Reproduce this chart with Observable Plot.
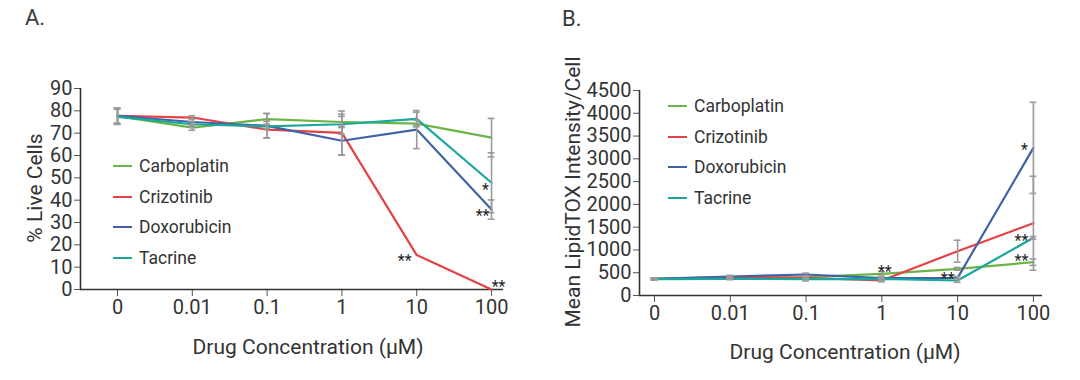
<!DOCTYPE html>
<html>
<head>
<meta charset="utf-8">
<script src="https://cdn.jsdelivr.net/npm/d3@7"></script>
<script src="https://cdn.jsdelivr.net/npm/@observablehq/plot@0.6"></script>
<style>
  html, body { margin: 0; padding: 0; background: #fff; }
  body { width: 1080px; height: 380px; overflow: hidden; font-family: Roboto, "Open Sans", sans-serif; color: #333; }
  #wrap { display: flex; width: 1080px; height: 380px; }
  .panel { position: relative; width: 540px; height: 380px; }
  .tag { position: absolute; font-size: 22px; color: #3a3a3a; }
  .legend { position: absolute; font-size: 17.5px; color: #333; }
  .legend .row { display: flex; align-items: center; height: 30.5px; }
  .legend .sw { width: 19px; height: 0; border-top: 2px solid; margin-right: 7px; }
</style>
</head>
<body>
<div id="wrap"></div>
<script>
// ---- data ----
const concentrations = ["0", "0.01", "0.1", "1", "10", "100"];
const drugs = ["Carboplatin", "Crizotinib", "Doxorubicin", "Tacrine"];
const colors = ["#6cb446", "#e44245", "#4262a8", "#1aa79c"];
const xTitle = "Drug Concentration (μM)";

// Panel A: % live cells
const liveCarboplatin = [77.6, 72.5, 76.3, 75.0, 74.3, 68.0];
const liveCrizotinib  = [77.8, 77.0, 71.6, 70.1, 15.4, 0.0];
const liveDoxorubicin = [77.8, 75.0, 73.3, 66.6, 71.6, 35.8];
const liveTacrine     = [77.3, 74.0, 73.0, 74.0, 76.4, 47.8];
const liveErrCarboplatin = [3.4, 1.2, 2.5, 2.5, 1.5, 8.6];
const liveErrCrizotinib  = [3.4, 0.8, 3.7, 9.8, 0.0, 0.0];
const liveErrDoxorubicin = [3.4, 1.5, 5.5, 6.5, 8.5, 4.3];
const liveErrTacrine     = [3.4, 1.2, 1.0, 4.5, 3.0, 13.4];
const liveTicks = [0, 10, 20, 30, 40, 50, 60, 70, 80, 90];
const liveStars = [
  {drug: "Tacrine", conc: "100", label: "*"},
  {drug: "Doxorubicin", conc: "100", label: "**"},
  {drug: "Crizotinib", conc: "10", label: "**"},
  {drug: "Crizotinib", conc: "100", label: "**"}
];

// Panel B: Mean LipidTOX intensity / cell
const lipCarboplatin = [366, 388, 402, 475, 585, 731];
const lipCrizotinib  = [366, 402, 388, 329, 973, 1587];
const lipDoxorubicin = [366, 417, 461, 380, 388, 3240];
const lipTacrine     = [358, 366, 358, 366, 329, 1266];
const lipErrCarboplatin = [20, 25, 25, 50, 30, 70];
const lipErrCrizotinib  = [20, 25, 25, 30, 240, 1030];
const lipErrDoxorubicin = [20, 25, 30, 30, 30, 1000];
const lipErrTacrine     = [20, 20, 40, 30, 40, 30];
const lipTicks = [0, 500, 1000, 1500, 2000, 2500, 3000, 3500, 4000, 4500];
const lipStars = [
  {drug: "Doxorubicin", conc: "100", label: "*"},
  {drug: "Tacrine", conc: "100", label: "**"},
  {drug: "Carboplatin", conc: "100", label: "**"},
  {drug: "Carboplatin", conc: "1", label: "**"},
  {drug: "Doxorubicin", conc: "10", label: "**"}
];

// ---- styling / layout (not data) ----
const starOffsetsA = [[-6, 7], [-9, 6], [-12, 6], [7, -3]];
const starOffsetsB = [[-9, 2], [-12, 3], [-12, -1], [3, -2], [-10, 1]];
const FONT = "Roboto, 'Open Sans', sans-serif";

function buildTable(series, errs) {
  const rows = [];
  drugs.forEach((drug, k) => {
    series[k].forEach((v, i) => rows.push({drug, i, conc: concentrations[i], v, lo: v - errs[k][i], hi: v + errs[k][i], err: errs[k][i]}));
  });
  return rows;
}

function makePanel(cfg) {
  const table = buildTable(cfg.series, cfg.errs);
  const bars = table.filter(d => d.err > 0);
  const caps = bars.flatMap(d => [{i: d.i, y: d.lo}, {i: d.i, y: d.hi}]);
  const stars = cfg.stars.map((s, k) => {
    const row = table.find(d => d.drug === s.drug && d.conc === s.conc);
    return {...s, i: row.i, v: row.v, off: cfg.starOffsets[k]};
  });
  const capHalf = 0.045;
  const xDom = cfg.xDomain;
  return Plot.plot({
    width: 540, height: 380,
    marginLeft: cfg.ml, marginRight: cfg.mr, marginTop: cfg.mt, marginBottom: cfg.mb,
    style: {fontFamily: FONT, fontSize: "20px", color: "#333", background: "transparent", overflow: "visible"},
    x: {type: "linear", domain: xDom},
    y: {domain: cfg.yDomain},
    color: {domain: drugs, range: colors},
    marks: [
      Plot.axisX({ticks: concentrations.map((_, i) => i), tickFormat: i => concentrations[i], tickSize: 7, tickPadding: 3,
        fontSize: 20, fill: "#333", label: null, stroke: "#555"}),
      Plot.axisY({ticks: cfg.yTicks, tickSize: 6, tickPadding: 2, tickFormat: d => String(d),
        fontSize: 20, fill: "#333", label: null, stroke: "#555"}),
      Plot.text([xTitle], {frameAnchor: "bottom", text: d => d, lineAnchor: "middle", textAnchor: "middle",
        dx: cfg.xTitleDx, dy: cfg.xTitleDy, fontSize: 21, fill: "#333"}),
      Plot.text([cfg.yLabel], {frameAnchor: "left", text: d => d, rotate: -90, lineAnchor: "middle", textAnchor: "middle",
        dx: cfg.yTitleDx, dy: cfg.yTitleDy, fontSize: 21, fill: "#333"}),
      Plot.ruleX([xDom[0]], {stroke: "#333", strokeWidth: 1.6}),
      Plot.ruleY([cfg.yDomain[0]], {stroke: "#333", strokeWidth: 1.6}),
      Plot.line(table, {x: "i", y: "v", z: "drug", stroke: "drug", strokeWidth: 2.2}),
      Plot.ruleX(bars, {x: "i", y1: "lo", y2: "hi", stroke: "#9a9a9a", strokeWidth: 1.6}),
      Plot.ruleY(caps, {y: "y", x1: d => d.i - capHalf, x2: d => d.i + capHalf, stroke: "#9a9a9a", strokeWidth: 1.6}),
      ...stars.map(s => Plot.text([s], {x: "i", y: "v", text: "label", dx: s.off[0], dy: s.off[1], fontSize: 16, fill: "#222"}))
    ]
  });
}

function legendEl(left, top) {
  const div = document.createElement("div");
  div.className = "legend";
  div.style.left = left + "px";
  div.style.top = top + "px";
  drugs.forEach((d, k) => {
    const row = document.createElement("div");
    row.className = "row";
    const sw = document.createElement("span");
    sw.className = "sw";
    sw.style.borderTopColor = colors[k];
    const t = document.createElement("span");
    t.textContent = d;
    row.append(sw, t);
    div.append(row);
  });
  return div;
}

const wrap = document.getElementById("wrap");

const pA = document.createElement("div");
pA.className = "panel";
pA.append(makePanel({
  series: [liveCarboplatin, liveCrizotinib, liveDoxorubicin, liveTacrine],
  errs: [liveErrCarboplatin, liveErrCrizotinib, liveErrDoxorubicin, liveErrTacrine],
  stars: liveStars, starOffsets: starOffsetsA,
  yDomain: [0, 90], yTicks: liveTicks, yLabel: "% Live Cells",
  xDomain: [-0.495, 5.16], ml: 80, mr: 37, mt: 88, mb: 91,
  xTitleDx: 16, xTitleDy: 58, yTitleDx: -45, yTitleDy: -1
}));
const tagA = document.createElement("div");
tagA.className = "tag"; tagA.textContent = "A."; tagA.style.left = "25px"; tagA.style.top = "5px";
pA.append(tagA, legendEl(113, 151));

const pB = document.createElement("div");
pB.className = "panel";
pB.append(makePanel({
  series: [lipCarboplatin, lipCrizotinib, lipDoxorubicin, lipTacrine],
  errs: [lipErrCarboplatin, lipErrCrizotinib, lipErrDoxorubicin, lipErrTacrine],
  stars: lipStars, starOffsets: starOffsetsB,
  yDomain: [0, 4500], yTicks: lipTicks, yLabel: "Mean LipidTOX Intensity/Cell",
  xDomain: [-0.198, 5.12], ml: 99, mr: 38, mt: 90, mb: 85,
  xTitleDx: 4, xTitleDy: 57, yTitleDx: -66, yTitleDy: -1
}));
const tagB = document.createElement("div");
tagB.className = "tag"; tagB.textContent = "B."; tagB.style.left = "22px"; tagB.style.top = "6px";
pB.append(tagB, legendEl(128, 91));

wrap.append(pA, pB);
</script>
</body>
</html>
